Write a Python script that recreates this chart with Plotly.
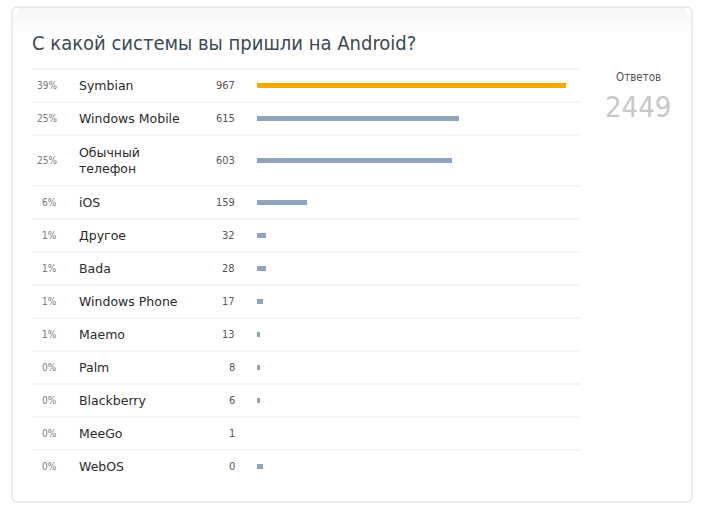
import plotly.graph_objects as go

W, H = 702, 511

title = "С какой системы вы пришли на Android?"
options = ["Symbian", "Windows Mobile", "Обычный<br>телефон", "iOS", "Другое", "Bada",
           "Windows Phone", "Maemo", "Palm", "Blackberry", "MeeGo", "WebOS"]
percents = ["39%", "25%", "25%", "6%", "1%", "1%", "1%", "1%", "0%", "0%", "0%", "0%"]
counts = [967, 615, 603, 159, 32, 28, 17, 13, 8, 6, 1, 0]
# bar lengths as drawn in the picture (in vote units)
bar_values = [967, 632, 610, 156, 28, 28, 19, 9, 9, 9, 0, 19]
total_label = "Ответов"
total = 2449

ORANGE = "#f5a900"
BLUE = "#8ea4c0"

# layout of rows (pixel geometry)
top = 69
rows = []
y = top
for name in options:
    h = 51 if "<br>" in name else 33
    rows.append((y, y + h))
    y += h
centers = [(a + b) / 2 for a, b in rows]

bar_x0, bar_x1 = 257, 566
scale = (bar_x1 - bar_x0) / max(counts)  # px per vote
xrange = [-bar_x0 / scale, (W - bar_x0) / scale]


def px(x):
    return x / W


def py(y):
    return 1 - y / H


fig = go.Figure()
fig.add_trace(go.Bar(
    x=bar_values, y=centers, orientation="h", width=5,
    marker=dict(color=[ORANGE] + [BLUE] * (len(options) - 1), line=dict(width=0)),
    hoverinfo="skip", showlegend=False,
))

shapes = []
# card
L, T, R, B, r = 12, 7, 692, 502, 6
rx, ry = r / W, r / H
path = (f"M {px(L)+rx},{py(T)} L {px(R)-rx},{py(T)} Q {px(R)},{py(T)} {px(R)},{py(T)-ry} "
        f"L {px(R)},{py(B)+ry} Q {px(R)},{py(B)} {px(R)-rx},{py(B)} "
        f"L {px(L)+rx},{py(B)} Q {px(L)},{py(B)} {px(L)},{py(B)+ry} "
        f"L {px(L)},{py(T)-ry} Q {px(L)},{py(T)} {px(L)+rx},{py(T)} Z")
shapes.append(dict(type="path", xref="paper", yref="paper", path=path,
                   fillcolor="#ffffff", line=dict(color="#d9d9d9", width=1), layer="below"))
# subtle top shading of the card
for i, col in enumerate(["#f7f7f7", "#f9f9f9", "#fbfbfb", "#fdfdfd"]):
    y0 = T + 1 + i * 6
    shapes.append(dict(type="rect", xref="paper", yref="paper",
                       x0=px(L + 1 + (r if i == 0 else 0)), x1=px(R - 1 - (r if i == 0 else 0)),
                       y0=py(y0), y1=py(y0 + 6), fillcolor=col, line=dict(width=0),
                       layer="below"))
# separators
for a, b in rows:
    shapes.append(dict(type="line", xref="paper", yref="y", x0=px(32), x1=px(581),
                       y0=a, y1=a, line=dict(color="#e9e9e9", width=1), layer="below"))

COND = "DejaVu Sans Condensed, DejaVu Sans"
ann = []
ann.append(dict(text=title, x=px(30), y=43, xref="paper", yref="y", xanchor="left",
                yanchor="middle", showarrow=False,
                font=dict(family=COND, size=20, color="#3b4a55")))
for c, p, n, v in zip(centers, percents, options, counts):
    ann.append(dict(text=p, x=px(59), y=c, xref="paper", yref="y", xanchor="right",
                    yanchor="middle", showarrow=False,
                    font=dict(family=COND, size=10, color="#777777")))
    ann.append(dict(text=n, x=px(77), y=c, xref="paper", yref="y", xanchor="left",
                    yanchor="middle", showarrow=False, align="left",
                    font=dict(family="DejaVu Sans", size=12.5, color="#2a2a2a")))
    ann.append(dict(text=str(v), x=px(237), y=c, xref="paper", yref="y", xanchor="right",
                    yanchor="middle", showarrow=False,
                    font=dict(family=COND, size=11, color="#555555")))
ann.append(dict(text=total_label, x=px(638), y=77, xref="paper", yref="y", xanchor="center",
                yanchor="middle", showarrow=False,
                font=dict(family=COND, size=11.5, color="#555555")))
ann.append(dict(text=str(total), x=px(638), y=107, xref="paper", yref="y", xanchor="center",
                yanchor="middle", showarrow=False,
                font=dict(family=COND, size=29, color="#c8c8c8")))

fig.update_layout(
    width=W, height=H, margin=dict(l=0, r=0, t=0, b=0),
    paper_bgcolor="#ffffff", plot_bgcolor="rgba(0,0,0,0)",
    xaxis=dict(range=xrange, visible=False, fixedrange=True),
    yaxis=dict(range=[H, 0], visible=False, fixedrange=True),
    shapes=shapes, annotations=ann, bargap=0,
)

fig.write_html("out.html", config={"displayModeBar": False},
               post_script="document.body.style.margin='0';document.body.style.overflow='hidden';")
